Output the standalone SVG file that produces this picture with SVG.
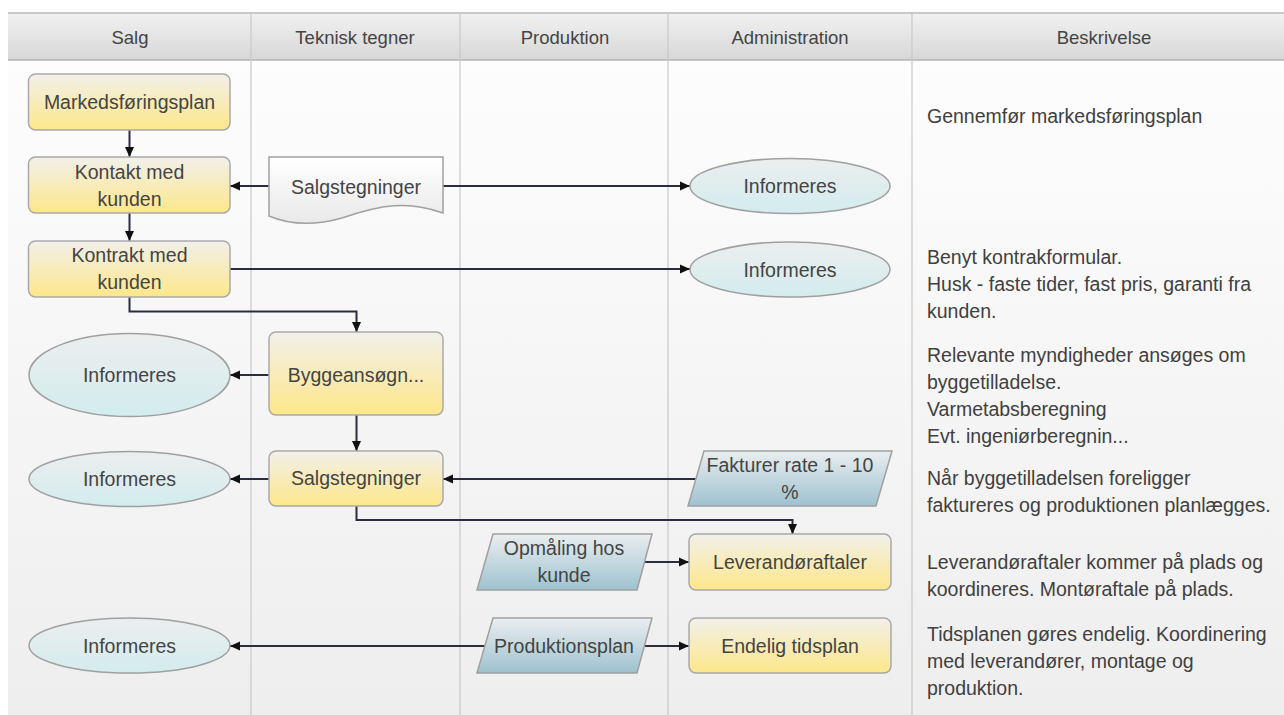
<svg xmlns="http://www.w3.org/2000/svg" width="1284" height="715" viewBox="0 0 1284 715">
  <defs>
    <linearGradient id="gBody" x1="0" y1="0" x2="0" y2="1">
      <stop offset="0" stop-color="#fdfdfd"/>
      <stop offset="1" stop-color="#eeeeee"/>
    </linearGradient>
    <linearGradient id="gHead" x1="0" y1="0" x2="0" y2="1">
      <stop offset="0" stop-color="#f1f1f1"/>
      <stop offset="1" stop-color="#d7d7d7"/>
    </linearGradient>
    <linearGradient id="gTask" x1="0" y1="0" x2="0" y2="1">
      <stop offset="0" stop-color="#f2f0ea"/>
      <stop offset="1" stop-color="#fde78a"/>
    </linearGradient>
    <linearGradient id="gOval" x1="0" y1="0" x2="0" y2="1">
      <stop offset="0" stop-color="#eceeef"/>
      <stop offset="1" stop-color="#d3eced"/>
    </linearGradient>
    <linearGradient id="gData" x1="0" y1="0" x2="0" y2="1">
      <stop offset="0" stop-color="#eaeef0"/>
      <stop offset="1" stop-color="#9ec2cf"/>
    </linearGradient>
    <linearGradient id="gDoc" x1="0" y1="0" x2="0" y2="1">
      <stop offset="0" stop-color="#ffffff"/>
      <stop offset="1" stop-color="#e9e9e9"/>
    </linearGradient>
    <marker id="arrow" viewBox="0 0 10 10" refX="10" refY="5" markerWidth="10" markerHeight="10" markerUnits="userSpaceOnUse" orient="auto">
      <path d="M0,0.5 L10,5 L0,9.5 z" fill="#111"/>
    </marker>
    <style>
      text { font-family: "Liberation Sans", Arial, sans-serif; font-size: 19.5px; fill: #444444; }
      .hd { text-anchor: middle; font-size: 18.5px; }
      .c { text-anchor: middle; }
      .desc { fill: #404040; }
      .task { fill: url(#gTask); stroke: #a9a9a9; stroke-width: 1.5; }
      .oval { fill: url(#gOval); stroke: #a0a0a0; stroke-width: 1.5; }
      .data { fill: url(#gData); stroke: #a0a0a0; stroke-width: 1.5; }
      .doc { fill: url(#gDoc); stroke: #a0a0a0; stroke-width: 1.5; }
      .sep { stroke: #c9c9c9; stroke-width: 1.2; }
      .edge { fill: none; stroke: #2c2c40; stroke-width: 2; marker-end: url(#arrow); }
    </style>
  </defs>

  <!-- swimlane frame -->
  <g id="lanes">
    <rect x="8" y="60" width="1276" height="655" fill="url(#gBody)"/>
    <rect x="8" y="13" width="1276" height="47" fill="url(#gHead)"/>
    <line x1="8" y1="13" x2="1284" y2="13" stroke="#b8b8b8" stroke-width="1.5"/>
    <line x1="8" y1="60" x2="1284" y2="60" stroke="#b5b5b5" stroke-width="1.5"/>
    <line class="sep" x1="251" y1="13" x2="251" y2="715"/>
    <line class="sep" x1="460" y1="13" x2="460" y2="715"/>
    <line class="sep" x1="668" y1="13" x2="668" y2="715"/>
    <line class="sep" x1="912" y1="13" x2="912" y2="715"/>
    <text class="hd" x="130" y="44">Salg</text>
    <text class="hd" x="355" y="44">Teknisk tegner</text>
    <text class="hd" x="565" y="44">Produktion</text>
    <text class="hd" x="790" y="44">Administration</text>
    <text class="hd" x="1104" y="44">Beskrivelse</text>
  </g>

  <!-- connectors -->
  <g id="connectors">
    <path class="edge" d="M129.5,130 V157"/>
    <path class="edge" d="M129.5,213 V241"/>
    <path class="edge" d="M269,186 H230"/>
    <path class="edge" d="M443,186 H690"/>
    <path class="edge" d="M230,269 H690"/>
    <path class="edge" d="M129.5,297 V311.5 H356.5 V332"/>
    <path class="edge" d="M269,375 H230"/>
    <path class="edge" d="M356.5,415 V451"/>
    <path class="edge" d="M269,479 H230"/>
    <path class="edge" d="M697,479 H443"/>
    <path class="edge" d="M356.5,506 V520 H792.5 V534"/>
    <path class="edge" d="M645,562 H689"/>
    <path class="edge" d="M645,646 H689"/>
    <path class="edge" d="M485,646 H230"/>
  </g>

  <!-- Salg lane -->
  <g id="markedsforingsplan">
    <rect class="task" x="28.5" y="74" width="201.5" height="56" rx="7"/>
    <text class="c" x="129.5" y="109">Markedsføringsplan</text>
  </g>
  <g id="kontakt-med-kunden">
    <rect class="task" x="28.5" y="157" width="201.5" height="56" rx="7"/>
    <text class="c" x="129.5" y="179">Kontakt med</text>
    <text class="c" x="129.5" y="206">kunden</text>
  </g>
  <g id="kontrakt-med-kunden">
    <rect class="task" x="28.5" y="241" width="201.5" height="56" rx="7"/>
    <text class="c" x="129.5" y="262">Kontrakt med</text>
    <text class="c" x="129.5" y="289">kunden</text>
  </g>
  <g id="informeres-salg-1">
    <ellipse class="oval" cx="129.5" cy="375" rx="100.5" ry="41.5"/>
    <text class="c" x="129.5" y="382">Informeres</text>
  </g>
  <g id="informeres-salg-2">
    <ellipse class="oval" cx="129.5" cy="479" rx="100.5" ry="27.5"/>
    <text class="c" x="129.5" y="486">Informeres</text>
  </g>
  <g id="informeres-salg-3">
    <ellipse class="oval" cx="129.5" cy="645.5" rx="100.5" ry="27.5"/>
    <text class="c" x="129.5" y="653">Informeres</text>
  </g>

  <!-- Teknisk tegner lane -->
  <g id="salgstegninger-doc">
    <path class="doc" d="M269,157 H443 V213 C408,200 380,205 342,218 C310,227 288,224 269,216 Z"/>
    <text class="c" x="356" y="194">Salgstegninger</text>
  </g>
  <g id="byggeansogning">
    <rect class="task" x="269" y="332" width="174" height="83" rx="7"/>
    <text class="c" x="356" y="382">Byggeansøgn...</text>
  </g>
  <g id="salgstegninger">
    <rect class="task" x="269" y="451" width="174" height="55" rx="7"/>
    <text class="c" x="356" y="485">Salgstegninger</text>
  </g>

  <!-- Produktion lane -->
  <g id="opmaling-hos-kunde">
    <polygon class="data" points="493,534 652,534 637,590 477,590"/>
    <text class="c" x="564" y="555">Opmåling hos</text>
    <text class="c" x="564" y="582">kunde</text>
  </g>
  <g id="produktionsplan">
    <polygon class="data" points="493,618 652,618 637,673 477,673"/>
    <text class="c" x="564" y="653">Produktionsplan</text>
  </g>

  <!-- Administration lane -->
  <g id="informeres-adm-1">
    <ellipse class="oval" cx="790" cy="186" rx="100" ry="27.5"/>
    <text class="c" x="790" y="193">Informeres</text>
  </g>
  <g id="informeres-adm-2">
    <ellipse class="oval" cx="790" cy="269.5" rx="100" ry="27.5"/>
    <text class="c" x="790" y="277">Informeres</text>
  </g>
  <g id="fakturer-rate">
    <polygon class="data" points="704,451 892,451 876,506 688,506"/>
    <text class="c" x="790" y="472">Fakturer rate 1 - 10</text>
    <text class="c" x="790" y="499">%</text>
  </g>
  <g id="leverandoraftaler">
    <rect class="task" x="689" y="534" width="202" height="56" rx="7"/>
    <text class="c" x="790" y="569">Leverandøraftaler</text>
  </g>
  <g id="endelig-tidsplan">
    <rect class="task" x="689" y="618" width="202" height="55" rx="7"/>
    <text class="c" x="790" y="653">Endelig tidsplan</text>
  </g>

  <!-- Beskrivelse lane -->
  <g id="beskrivelse">
    <text class="desc" x="927" y="123">Gennemfør markedsføringsplan</text>
    <text class="desc" x="927" y="264">Benyt kontrakformular.</text>
    <text class="desc" x="927" y="291">Husk - faste tider, fast pris, garanti fra</text>
    <text class="desc" x="927" y="318">kunden.</text>
    <text class="desc" x="927" y="362">Relevante myndigheder ansøges om</text>
    <text class="desc" x="927" y="389">byggetilladelse.</text>
    <text class="desc" x="927" y="416">Varmetabsberegning</text>
    <text class="desc" x="927" y="443">Evt. ingeniørberegnin...</text>
    <text class="desc" x="927" y="485">Når byggetilladelsen foreligger</text>
    <text class="desc" x="927" y="512">faktureres og produktionen planlægges.</text>
    <text class="desc" x="927" y="569">Leverandøraftaler kommer på plads og</text>
    <text class="desc" x="927" y="596">koordineres. Montøraftale på plads.</text>
    <text class="desc" x="927" y="641">Tidsplanen gøres endelig. Koordinering</text>
    <text class="desc" x="927" y="668">med leverandører, montage og</text>
    <text class="desc" x="927" y="695">produktion.</text>
  </g>
</svg>
